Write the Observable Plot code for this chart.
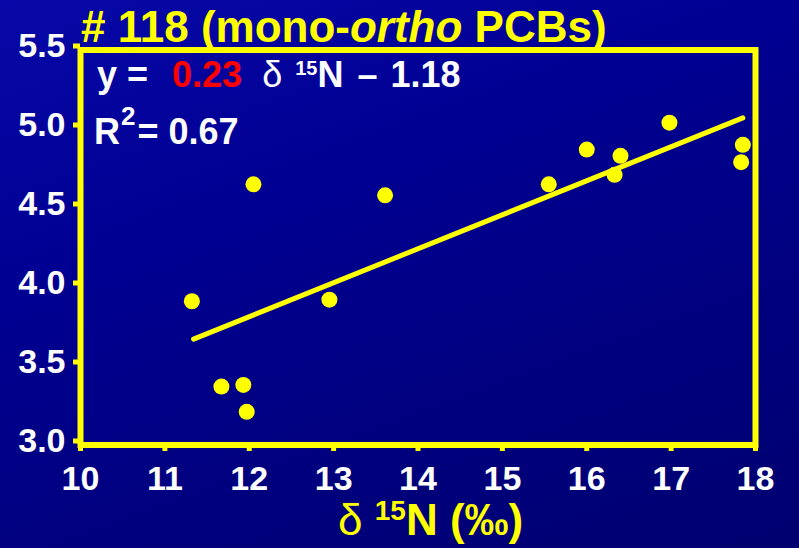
<!DOCTYPE html>
<html>
<head>
<meta charset="utf-8">
<script src="https://cdn.jsdelivr.net/npm/d3@7"></script>
<script src="https://cdn.jsdelivr.net/npm/@observablehq/plot@0.6"></script>
<style>
  html, body { margin: 0; padding: 0; overflow: hidden; }
  #wrap {
    position: relative; width: 799px; height: 548px; overflow: hidden;
    background: linear-gradient(160deg, #0808a8 0%, #000092 35%, #00007e 70%, #000070 100%);
    font-family: "Liberation Sans", Arial, sans-serif;
  }
  #chart { position: absolute; left: 0; top: 0; }
  .t { position: absolute; white-space: pre; font-weight: bold; line-height: 1; }
  .sup { position: relative; }
</style>
</head>
<body>
<div id="wrap">
  <div id="chart"></div>
  <div class="t" style="left:81px;top:4.8px;font-size:44px;color:#ffff00;"># 118 (mono-<i>ortho</i> PCBs)</div>
  <div class="t" style="left:97px;top:56.5px;font-size:36px;color:#ffffff;">y =  <span style="color:#ff0000;margin-left:4px;">0.23</span>  <span style="font-weight:normal">δ</span> <span class="sup" style="font-size:20px;top:-12px;margin-left:3px;">15</span>N <span style="margin-left:4px;">–</span> <span style="margin-left:3px;">1.18</span></div>
  <div class="t" style="left:94px;top:113.5px;font-size:36px;color:#ffffff;">R<span class="sup" style="font-size:26px;top:-19px;margin-left:1px;">2</span><span style="margin-left:2px;">= 0.67</span></div>
  <div class="t" style="left:338px;top:498px;font-size:44px;color:#ffff00;"><span style="font-weight:normal">δ</span> <span class="sup" style="font-size:28px;top:-15px;">15</span>N (‰)</div>
</div>
<script>
// δ15N (‰) of each sample
const deltaN = [11.32, 12.05, 11.67, 11.93, 11.97, 12.95, 13.61, 15.55, 16.00, 16.40, 16.33, 16.98, 17.85, 17.83];
// log concentration of PCB #118
const logConc = [3.91, 4.65, 3.37, 3.38, 3.21, 3.92, 4.58, 4.65, 4.87, 4.83, 4.71, 5.04, 4.90, 4.79];
// regression line end points
const fitX = [11.34, 17.85];
const fitY = [3.67, 5.07];
// tick values
const xTicks = [10, 11, 12, 13, 14, 15, 16, 17, 18];
const yTicks = [3.0, 3.5, 4.0, 4.5, 5.0, 5.5];

const points = deltaN.map((x, i) => ({x, y: logConc[i]}));
const fit = fitX.map((x, i) => ({x, y: fitY[i]}));

const yellow = "#ffff00";

const chart = Plot.plot({
  width: 799,
  height: 548,
  marginLeft: 80,
  marginRight: 44,
  marginTop: 49.5,
  marginBottom: 103.5,
  style: {background: "transparent", fontFamily: "'Liberation Sans', Arial, sans-serif", fontWeight: "bold", color: "white"},
  x: {domain: [10, 18]},
  y: {domain: [3.0, 5.5]},
  marks: [
    Plot.axisX({ticks: xTicks, tickSize: 6.5, tickPadding: 14, stroke: yellow, strokeWidth: 5,
      fill: "white", fontSize: 34, fontWeight: "bold", tickFormat: d => String(d), label: null}),
    Plot.axisY({ticks: yTicks, tickSize: 7, tickPadding: 8, stroke: yellow, strokeWidth: 5,
      fill: "white", fontSize: 34, fontWeight: "bold", tickFormat: d3.format(".1f"), label: null, dy: -4}),
    Plot.frame({stroke: yellow, strokeWidth: 6}),
    Plot.line(fit, {x: "x", y: "y", stroke: yellow, strokeWidth: 5}),
    Plot.dot(points, {x: "x", y: "y", r: 8, fill: yellow})
  ]
});
document.getElementById("chart").appendChild(chart);
</script>
</body>
</html>
